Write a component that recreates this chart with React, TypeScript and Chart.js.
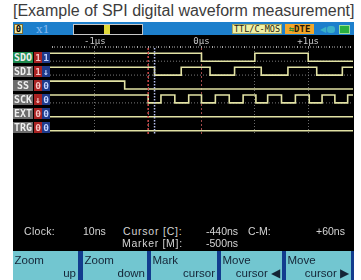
import React, { useEffect, useRef } from 'react';
import { Chart, registerables } from 'chart.js';

Chart.register(...registerables);

// ---------- data ----------
const titleText = '[Example of SPI digital waveform measurement]';
const channelNames = ['SDO', 'SDI', 'SS', 'SCK', 'EXT', 'TRG'];
const channelFlagA = ['1', '1', '0', '↓', '0', '0'];
const channelFlagB = ['1', '↓', '0', '0', '0', '0'];
const startLevels = [1, 1, 1, 1, 0, 0];
const sdoEdges = [0, 0.5, 1.0];
const sdiEdges = [-0.44, -0.19, 0.08, 0.31, 0.56, 0.81, 1.08, 1.32];
const ssEdges = [-0.72];
const sckEdges = [-0.5, -0.38, -0.25, -0.12, 0, 0.13, 0.26, 0.39, 0.51, 0.62, 0.75, 0.88, 1.01, 1.13, 1.25, 1.37];
const extEdges: number[] = [];
const trgEdges: number[] = [];
const channelEdges = [sdoEdges, sdiEdges, ssEdges, sckEdges, extEdges, trgEdges];
const idleGuide = [true, true, false, true, false, false];

const timeMin = -1.42;
const timeMax = 1.42;
const timeTickValues = [-1, 0, 1];
const timeTickLabels = ['-1μs', '0μs', '+1μs'];
const markerTime = -0.5;
const cursorTime = -0.44;

const clockValue = '10ns';
const cursorValue = '-440ns';
const markerValue = '-500ns';
const diffValue = '+60ns';

const buttonTop = ['Zoom', 'Zoom', 'Mark', 'Move', 'Move'];
const buttonBottom = ['up', 'down', 'cursor', 'cursor ◀', 'cursor ▶'];

// ---------- layout helpers ----------
const SWING = 0.568; // low level offset in row units
const Y_MIN = -0.381;
const Y_MAX = 5.806;

const rulerTicks: number[] = [];
for (let k = -56; k <= 56; k++) rulerTicks.push(k * 0.025);

const isMult = (v: number, m: number) => Math.abs(v / m - Math.round(v / m)) < 1e-6;

function stepPoints(edges: number[], start: number, row: number) {
  const yOf = (lvl: number) => row + (1 - lvl) * SWING;
  let lvl = start;
  const pts = [{ x: timeMin, y: yOf(lvl) }];
  for (const e of edges) {
    lvl = 1 - lvl;
    pts.push({ x: e, y: yOf(lvl) });
  }
  pts.push({ x: timeMax, y: yOf(lvl) });
  return pts;
}

function buildConfig(): any {
  const datasets: any[] = [];
  datasets.push({
    data: [{ x: markerTime, y: Y_MIN }, { x: markerTime, y: Y_MAX }],
    borderColor: '#d04848', borderWidth: 1.5, borderDash: [2, 2], pointRadius: 0,
  });
  datasets.push({
    data: [{ x: cursorTime, y: Y_MIN }, { x: cursorTime, y: Y_MAX }],
    borderColor: '#b8c0f0', borderWidth: 1.5, borderDash: [1.5, 1.5], pointRadius: 0,
  });
  channelEdges.forEach((edges, i) => {
    datasets.push({
      data: stepPoints(edges, startLevels[i], i),
      stepped: true,
      borderColor: '#e2e2a4', borderWidth: 1.6, pointRadius: 0,
    });
  });
  channelEdges.forEach((_, i) => {
    if (!idleGuide[i]) return;
    datasets.push({
      data: [{ x: timeMin, y: i + SWING }, { x: timeMax, y: i + SWING }],
      borderColor: '#7a7a7a', borderWidth: 1, borderDash: [1, 2], pointRadius: 0,
    });
  });

  return {
    type: 'line',
    data: { datasets },
    options: {
      animation: false,
      responsive: false,
      layout: { padding: { left: 37, right: 1, top: 0, bottom: 0 } },
      plugins: { legend: { display: false }, tooltip: { enabled: false } },
      elements: { point: { radius: 0 }, line: { tension: 0 } },
      scales: {
        x: {
          type: 'linear',
          position: 'top',
          min: timeMin,
          max: timeMax,
          afterFit: (s: any) => { s.height = 13; },
          afterBuildTicks: (s: any) => { s.ticks = rulerTicks.map((v) => ({ value: v })); },
          ticks: {
            autoSkip: false,
            maxRotation: 0,
            minRotation: 0,
            padding: 0,
            color: '#c8c8c8',
            font: { family: 'DejaVu Sans Mono', size: 9, lineHeight: 1 },
            callback: (v: number) => {
              const idx = timeTickValues.findIndex((t) => Math.abs(t - v) < 1e-6);
              return idx >= 0 ? timeTickLabels[idx] : '';
            },
          },
          grid: {
            lineWidth: 1,
            tickLength: 2,
            color: (ctx: any) => {
              const v = ctx.tick ? ctx.tick.value : NaN;
              if (isNaN(v)) return 'transparent';
              if (Math.abs(v) < 1e-6) return '#a04a4a';
              return isMult(v, 0.5) ? '#6a6a6a' : 'transparent';
            },
            tickColor: (ctx: any) => {
              const v = ctx.tick ? ctx.tick.value : 0;
              return isMult(v, 0.1) ? '#a8a8a8' : '#5a5a5a';
            },
          },
          border: {
            display: false,
            dash: (ctx: any) => {
              const v = ctx.tick ? ctx.tick.value : 1;
              return Math.abs(v) < 1e-6 ? [2, 2] : [1, 2];
            },
          },
        },
        y: {
          type: 'linear',
          display: false,
          reverse: true,
          min: Y_MIN,
          max: Y_MAX,
        },
      },
    },
  };
}

const abs = (l: number, t: number, w: number, h: number, extra: React.CSSProperties = {}): React.CSSProperties => ({
  position: 'absolute', left: l, top: t, width: w, height: h, boxSizing: 'border-box', ...extra,
});

const txt = (l: number, t: number, extra: React.CSSProperties = {}): React.CSSProperties => ({
  position: 'absolute', left: l, top: t, whiteSpace: 'nowrap', lineHeight: 1, ...extra,
});

export default function App() {
  const canvasRef = useRef<HTMLCanvasElement>(null);

  useEffect(() => {
    const c = canvasRef.current;
    if (!c) return;
    const chart = new Chart(c, buildConfig());
    return () => chart.destroy();
  }, []);

  const info: React.CSSProperties = { fontFamily: 'Liberation Sans, Arial, sans-serif', fontSize: 10.5, color: '#d4d4d4' };
  const btnFont: React.CSSProperties = { fontFamily: 'Liberation Sans, Arial, sans-serif', fontSize: 11.5, color: '#142436' };
  const btnX = [[13, 78], [83, 147], [151, 217], [221, 282], [286, 351]];
  const mono: React.CSSProperties = { fontFamily: 'DejaVu Sans Mono, monospace', fontWeight: 'bold', textAlign: 'center' };

  return (
    <div style={{ position: 'absolute', left: 0, top: 0, width: 361, height: 280, background: '#fff', overflow: 'hidden' }}>
      <div style={txt(13, 3.2, { fontFamily: 'Liberation Sans, Arial, sans-serif', fontSize: 16, color: '#3c3c3c' })}>{titleText}</div>

      {/* header */}
      <div style={abs(13, 22, 341, 13, { background: '#1d7fcc' })} />
      <div style={abs(14, 24, 9, 10, { background: '#f0e6a0', border: '1px solid #7a6a30', ...mono, fontSize: 9, lineHeight: '8px', color: '#000' })}>0</div>
      <div style={txt(36, 24, { fontFamily: 'DejaVu Serif, serif', fontSize: 11.5, color: '#86baf0' })}>x1</div>
      <div style={abs(73, 23.5, 70, 11, { background: '#000', border: '1px solid #c8c8c8' })} />
      <div style={abs(104, 24.5, 6, 9, { background: '#e0d838' })} />
      <div style={abs(232, 24, 50, 10, { background: '#f0f0a4', border: '1px solid #a8a860', ...mono, fontWeight: 'normal', fontSize: 8.5, lineHeight: '8px', color: '#2a2410' })}>TTL/C-MOS</div>
      <div style={abs(285, 24, 29, 10, { background: '#f2a62a', ...mono, fontSize: 9, lineHeight: '10px', color: '#2a1800' })}>
        <span style={{ color: '#3a8a30' }}>⇆</span>DTE
      </div>
      <div style={txt(320, 25.5, { fontFamily: 'DejaVu Sans', fontSize: 8, color: '#3ab0c8' })}>◀</div>
      <div style={abs(327, 26, 8, 7, { background: '#3ab0c8', borderRadius: 3 })} />
      <div style={abs(339, 25, 11, 9, { background: '#28b040', border: '1px solid #9ae09a' })} />

      {/* screen */}
      <div style={abs(13, 35, 341, 216, { background: '#000' })} />
      <canvas ref={canvasRef} width={341} height={99} style={{ position: 'absolute', left: 13, top: 35, width: 341, height: 99, display: 'block' }} />

      {channelNames.map((name, i) => {
        const top = 51.5 + 14 * i;
        return (
          <React.Fragment key={name}>
            <div style={abs(13, top, 20, 11, { background: i === 0 ? '#1e8a4e' : '#6c6c6c', ...mono, fontSize: 10, lineHeight: '11px', color: '#eeeeee' })}>{name}</div>
            <div style={abs(34, top, 8, 11, { background: '#a82222', ...mono, fontSize: 9.5, lineHeight: '11px', color: '#f4c4c4' })}>{channelFlagA[i]}</div>
            <div style={abs(42, top, 8, 11, { background: '#1e3a8a', ...mono, fontSize: 9.5, lineHeight: '11px', color: '#c4d4ff' })}>{channelFlagB[i]}</div>
          </React.Fragment>
        );
      })}

      {/* info */}
      <div style={txt(24, 226, { ...info, letterSpacing: 0.3 })}>Clock:</div>
      <div style={txt(83, 226, info)}>{clockValue}</div>
      <div style={txt(123, 226, { ...info, letterSpacing: 0.8 })}>Cursor [C]:</div>
      <div style={txt(206, 226, info)}>{cursorValue}</div>
      <div style={txt(248, 226, info)}>C-M:</div>
      <div style={txt(316, 226, info)}>{diffValue}</div>
      <div style={txt(122, 237.6, { ...info, letterSpacing: 0.7 })}>Marker [M]:</div>
      <div style={txt(206, 237.6, info)}>{markerValue}</div>

      {/* buttons */}
      <div style={abs(13, 251, 341, 29, { background: '#123c8e' })} />
      {buttonTop.map((t, i) => {
        const [x0, x1] = btnX[i];
        return (
          <React.Fragment key={i}>
            <div style={abs(x0, 251, x1 - x0, 29, { background: '#72c6d0' })} />
            <div style={txt(x0 + 1.5, 255.3, btnFont)}>{t}</div>
            <div style={{ ...txt(0, 267.6, btnFont), left: 'auto', right: 361 - x1 + 2 }}>{buttonBottom[i]}</div>
          </React.Fragment>
        );
      })}
    </div>
  );
}
